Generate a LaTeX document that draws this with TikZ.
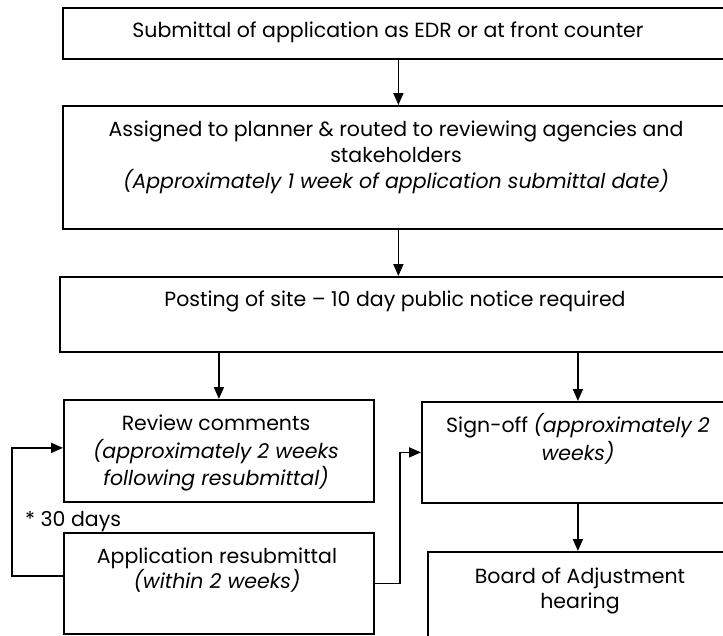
\documentclass[tikz,border=0pt]{standalone}
\usepackage{fontspec}
\setmainfont{Poppins}
\usetikzlibrary{arrows.meta}
\begin{document}
\begin{tikzpicture}[x=1pt,y=-1pt,
  box/.style={draw=black,line width=1.8pt,rectangle,inner sep=0pt,anchor=north west},
  lbl/.style={inner sep=0pt,align=center,font=\fontsize{20.5}{26}\selectfont},
  arr/.style={line width=1.8pt,-{Triangle[length=12pt,width=10pt]}},
  con/.style={line width=1.8pt}]
\useasboundingbox (0,0) rectangle (723,635);
\clip (0,0) rectangle (723,635);
\node[box,minimum width=671,minimum height=51] (b1) at (62,7) {};
\node[box,minimum width=671,minimum height=123] (b2) at (62,105) {};
\node[box,minimum width=674,minimum height=75] (b3) at (59,276) {};
\node[box,minimum width=310,minimum height=102] (rev) at (63,399) {};
\node[box,minimum width=310,minimum height=101] (app) at (63,532) {};
\node[box,minimum width=312,minimum height=101] (sign) at (421,401) {};
\node[box,minimum width=306,minimum height=110] (board) at (427,551) {};

\node[lbl] (t1) at (388,32) {Submittal of application as EDR or at front counter};
\node[lbl] (t2) at (396,157) {Assigned to planner \& routed to reviewing agencies and\\ stakeholders\\ \itshape (Approximately 1 week of application submittal date)};
\node[lbl] (t3) at (395,301) {Posting of site -- 10 day public notice required};
\node[lbl,font=\fontsize{20.5}{27.5}\selectfont] (t4) at (216,453) {Review comments\\ \itshape (approximately 2 weeks\\ \itshape following resubmittal)};
\node[lbl,font=\fontsize{20.5}{25}\selectfont] (t5) at (217,570.5) {Application resubmittal\\ \itshape (within 2 weeks)};
\node[lbl,font=\fontsize{20.5}{28}\selectfont] (t6) at (578,439) {Sign-off \textit{(approximately 2}\\ \itshape weeks)};
\node[lbl,font=\fontsize{20.5}{25}\selectfont] (t7) at (580,590.5) {Board of Adjustment\\ hearing};
\node[lbl,anchor=west] (t8) at (25,522) {* 30 days};

\draw[arr] (b1.south) -- (b2.north);
\draw[arr] (b2.south) -- (b2.south |- b3.north);
\draw[arr] (rev.north |- b3.south) -- (rev.north);
\draw[arr] (sign.north |- b3.south) -- (sign.north);
\draw[arr] (sign.south) -- (sign.south |- board.north);
\draw[arr] ([yshift=7.5pt]app.west) -- ++(-51,0) |- ([yshift=3pt]rev.west);
\draw[arr] (app.east) -- ++(25,0) |- (sign.west);
\end{tikzpicture}
\end{document}
